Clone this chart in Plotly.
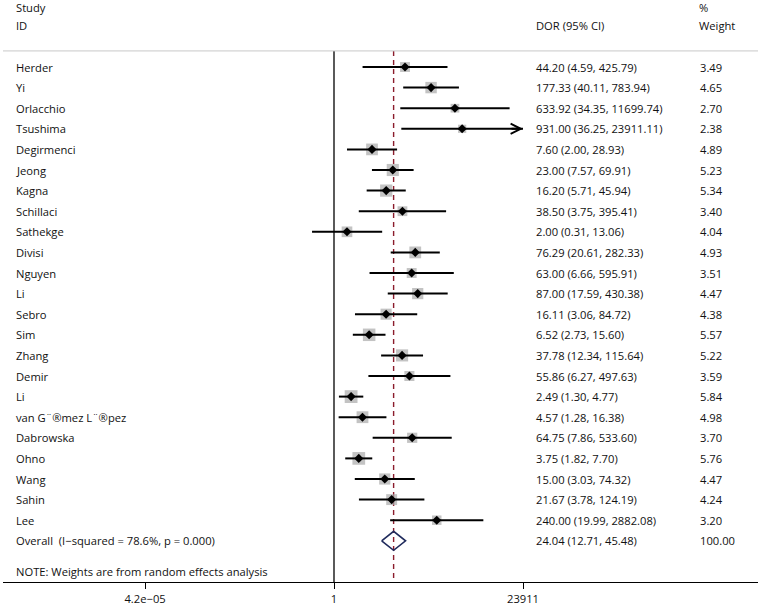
import numpy as np
import plotly.graph_objects as go

# study level data
studies = ["Herder", "Yi", "Orlacchio", "Tsushima", "Degirmenci", "Jeong", "Kagna",
           "Schillaci", "Sathekge", "Divisi", "Nguyen", "Li", "Sebro", "Sim", "Zhang",
           "Demir", "Li", "van G¨®mez L¨®pez", "Dabrowska", "Ohno", "Wang", "Sahin", "Lee"]
dor = [44.20, 177.33, 633.92, 931.00, 7.60, 23.00, 16.20, 38.50, 2.00, 76.29, 63.00,
       87.00, 16.11, 6.52, 37.78, 55.86, 2.49, 4.57, 64.75, 3.75, 15.00, 21.67, 240.00]
ci_low = [4.59, 40.11, 34.35, 36.25, 2.00, 7.57, 5.71, 3.75, 0.31, 20.61, 6.66,
          17.59, 3.06, 2.73, 12.34, 6.27, 1.30, 1.28, 7.86, 1.82, 3.03, 3.78, 19.99]
ci_high = [425.79, 783.94, 11699.74, 23911.11, 28.93, 69.91, 45.94, 395.41, 13.06,
           282.33, 595.91, 430.38, 84.72, 15.60, 115.64, 497.63, 4.77, 16.38, 533.60,
           7.70, 74.32, 124.19, 2882.08]
weights = [3.49, 4.65, 2.70, 2.38, 4.89, 5.23, 5.34, 3.40, 4.04, 4.93, 3.51, 4.47,
           4.38, 5.57, 5.22, 3.59, 5.84, 4.98, 3.70, 5.76, 4.47, 4.24, 3.20]

overall = 24.04
overall_low = 12.71
overall_high = 45.48
overall_label = "Overall\u00a0 (I\u2212squared = 78.6%, p = 0.000)"

tick_vals = [4.2e-05, 1, 23911]
tick_text = ["4.2e\u221205", "1", "23911"]

font = "Open Sans"
fsize = 11.2
tcol = "#111"

n = len(studies)
rows = list(range(n))
overall_row = n
top_line = -0.78
axis_row = 25.0

# x range so that the ticks sit where Stata put them
px_per_dec = 189 / np.log10(tick_vals[-1])
x_range = [-331 / px_per_dec, 424 / px_per_dec]

fig = go.Figure()

# null line and overall line
fig.add_trace(go.Scatter(x=[1, 1], y=[top_line, axis_row], mode="lines",
                         line=dict(color="black", width=1.3), hoverinfo="skip"))
fig.add_trace(go.Scatter(x=[overall, overall], y=[top_line, axis_row], mode="lines",
                         line=dict(color="#8b1c2c", width=1.4, dash="5px,4px"),
                         hoverinfo="skip"))

# weight boxes
fig.add_trace(go.Scatter(x=dor, y=rows, mode="markers",
                         marker=dict(symbol="square", color="#a9a9a9",
                                     size=[5.3 * np.sqrt(w) for w in weights],
                                     line=dict(width=0)),
                         hoverinfo="skip"))

# confidence intervals (clipped at the axis end)
xmax = tick_vals[-1]
cx, cy = [], []
for r, lo, hi in zip(rows, ci_low, ci_high):
    cx += [lo, min(hi, xmax), None]
    cy += [r, r, None]
fig.add_trace(go.Scatter(x=cx, y=cy, mode="lines", line=dict(color="black", width=2),
                         hoverinfo="skip"))

# point estimates
fig.add_trace(go.Scatter(x=dor, y=rows, mode="markers",
                         marker=dict(symbol="diamond", color="black", size=7),
                         hoverinfo="skip"))

# overall diamond
h = 0.46
fig.add_trace(go.Scatter(x=[overall_low, overall, overall_high, overall, overall_low],
                         y=[overall_row, overall_row - h, overall_row, overall_row + h, overall_row],
                         mode="lines", line=dict(color="#1f2a5c", width=1.6),
                         hoverinfo="skip"))

# arrows for clipped intervals
for r, hi in zip(rows, ci_high):
    if hi > xmax:
        fig.add_annotation(x=np.log10(xmax), y=r, ax=np.log10(xmax) - 0.3, ay=r,
                           xref="x", yref="y", axref="x", ayref="y", text="",
                           showarrow=True, arrowhead=5, arrowsize=1, arrowwidth=2,
                           arrowcolor="black")


def px(x):
    return (x - 3) / 755


def label(x, y, text):
    fig.add_annotation(x=px(x), y=y, xref="paper", yref="y", text=text, showarrow=False,
                       xanchor="left", yanchor="middle",
                       font=dict(family=font, size=fsize, color=tcol))


# headers
label(14, -2.9, "Study")
label(14, -2.0, "ID")
label(534, -2.0, "DOR (95% CI)")
label(697, -2.9, "%")
label(697, -2.0, "Weight")

for r, s, d, lo, hi, w in zip(rows, studies, dor, ci_low, ci_high, weights):
    label(14, r, s)
    label(534, r, f"{d:.2f} ({lo:.2f}, {hi:.2f})")
    label(698, r, f"{w:.2f}")

label(14, overall_row, overall_label)
label(534, overall_row, f"{overall:.2f} ({overall_low:.2f}, {overall_high:.2f})")
label(698, overall_row, "100.00")
label(14, 24.5, "NOTE: Weights are from random effects analysis")

fig.add_shape(type="line", xref="paper", yref="y", x0=0, x1=1, y0=top_line, y1=top_line,
              line=dict(color="#c8c8c8", width=1))

fig.update_layout(
    width=760, height=608,
    margin=dict(l=3, r=2, t=0, b=26),
    plot_bgcolor="white", paper_bgcolor="white",
    showlegend=False,
    xaxis=dict(type="log", range=x_range, showgrid=False, zeroline=False,
               showline=True, linecolor="black", linewidth=1.3,
               ticks="outside", ticklen=6, tickcolor="black", tickwidth=1.3,
               tickvals=tick_vals, ticktext=tick_text,
               tickfont=dict(family=font, size=fsize, color=tcol)),
    yaxis=dict(range=[axis_row, -67 / 20.6], visible=False, showgrid=False,
               zeroline=False),
)

fig.write_html("out.html", config={"displayModeBar": False},
               post_script="document.body.style.margin='0';")
